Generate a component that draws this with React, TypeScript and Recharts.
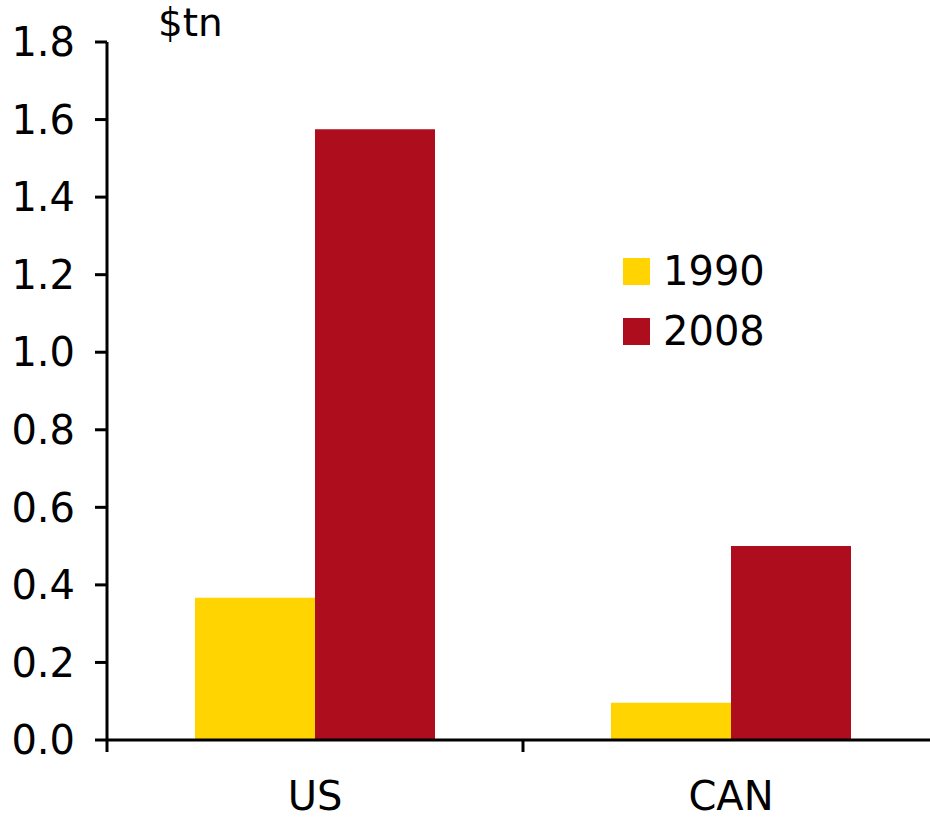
import { BarChart, Bar, XAxis, YAxis } from 'recharts';

const categories = ['US', 'CAN'];
const values1990 = [0.367, 0.096];
const values2008 = [1.575, 0.5];
const yTicks = [0, 0.2, 0.4, 0.6, 0.8, 1.0, 1.2, 1.4, 1.6, 1.8];
const boundaryTicks = [0, 1, 2];
const seriesNames = ['1990', '2008'];
const seriesColors = ['#FFD400', '#AE0D1E'];

const data = categories.map((name, i) => ({
  name,
  idx: i + 0.5,
  y1990: values1990[i],
  y2008: values2008[i],
}));

const font = '"DejaVu Sans", Verdana, sans-serif';

function LegendBox() {
  return (
    <div style={{ position: 'absolute', left: 623, top: 241, fontFamily: font, fontSize: 40, color: '#000' }}>
      {seriesNames.map((s, i) => (
        <div key={s} style={{ display: 'flex', alignItems: 'center', height: 60 }}>
          <span style={{ display: 'inline-block', width: 27, height: 27, background: seriesColors[i], marginRight: 13 }} />
          <span>{s}</span>
        </div>
      ))}
    </div>
  );
}

export default function App() {
  return (
    <div style={{ position: 'absolute', left: 0, top: 0, width: 930, height: 818, overflow: 'hidden', background: '#fff' }}>
      <BarChart
        width={939}
        height={818}
        data={data}
        margin={{ top: 42, right: 0, bottom: 0, left: 0 }}
        barGap={0}
      >
        <XAxis
          xAxisId="a_grid"
          type="number"
          dataKey="idx"
          domain={[0, 2]}
          ticks={boundaryTicks}
          height={1}
          axisLine={{ stroke: '#000', strokeWidth: 3 }}
          tickLine={{ stroke: '#000', strokeWidth: 3 }}
          tickSize={12}
          tickFormatter={() => ''}
        />
        <XAxis
          xAxisId="b_cat"
          dataKey="name"
          height={77}
          axisLine={false}
          tickLine={false}
          tickSize={0}
          tickMargin={41}
          tick={{ fill: '#000', fontSize: 40, fontFamily: font }}
        />
        <YAxis
          width={107}
          domain={[0, 1.8]}
          ticks={yTicks}
          interval={0}
          tickFormatter={(v: number) => v.toFixed(1)}
          axisLine={{ stroke: '#000', strokeWidth: 3 }}
          tickLine={{ stroke: '#000', strokeWidth: 3 }}
          tickSize={12}
          tickMargin={20}
          tick={{ fill: '#000', fontSize: 40, fontFamily: font }}
        />
        <Bar xAxisId="b_cat" dataKey="y1990" name="1990" fill={seriesColors[0]} barSize={120} isAnimationActive={false} />
        <Bar xAxisId="b_cat" dataKey="y2008" name="2008" fill={seriesColors[1]} barSize={120} isAnimationActive={false} />
      </BarChart>
      <div
        style={{
          position: 'absolute',
          left: 158,
          top: 3,
          fontFamily: font,
          fontSize: 39,
          lineHeight: 1,
          color: '#000',
        }}
      >
        $tn
      </div>
      <LegendBox />
    </div>
  );
}
